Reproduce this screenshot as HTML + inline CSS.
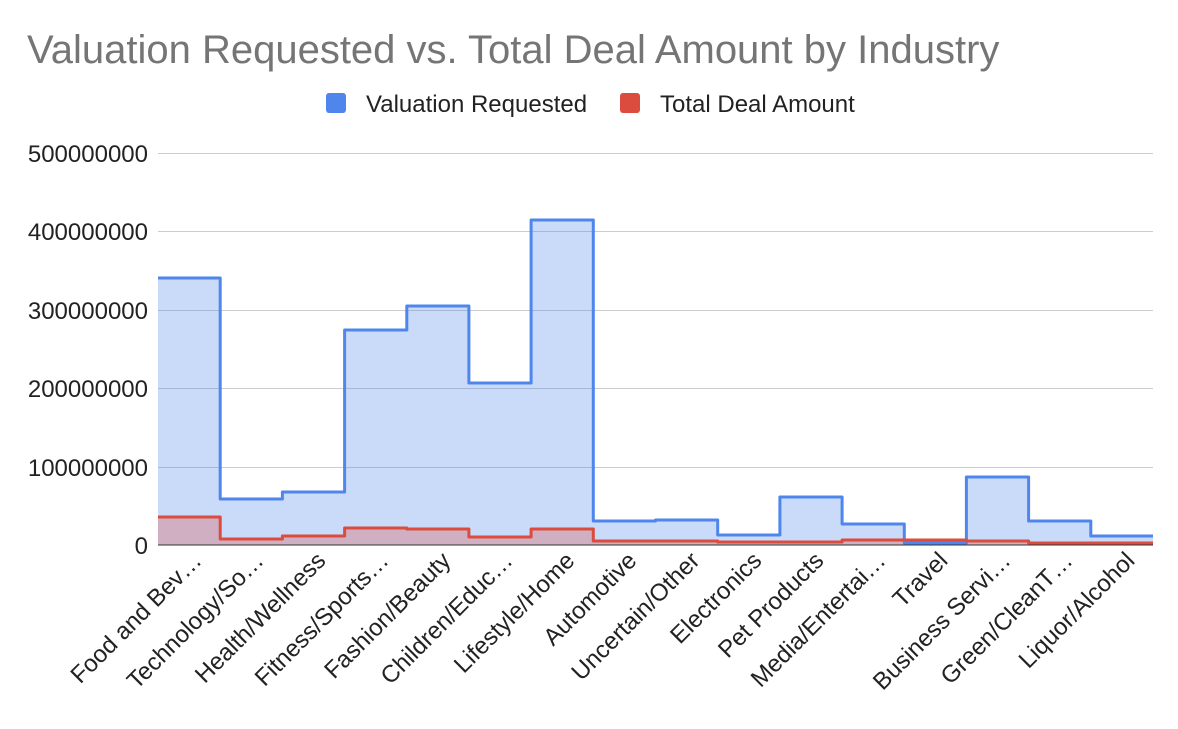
<!DOCTYPE html>
<html><head><meta charset="utf-8"><style>
body{margin:0;background:#fff}
svg text{font-family:"Liberation Sans",Arial,sans-serif}
</style></head><body>
<svg width="1178" height="724" viewBox="0 0 1178 724" xmlns="http://www.w3.org/2000/svg">
<rect width="1178" height="724" fill="#fff"/>
<text x="27" y="63" font-size="40" fill="#757575">Valuation Requested vs. Total Deal Amount by Industry</text>
<rect x="326" y="93" width="20" height="20" rx="3" fill="#4f86ec"/>
<text x="366" y="112" font-size="24" fill="#222">Valuation Requested</text>
<rect x="620" y="93" width="20" height="20" rx="3" fill="#db4c3f"/>
<text x="660" y="112" font-size="24" fill="#222">Total Deal Amount</text>
<g stroke="#cccccc" stroke-width="1">
<line x1="158" x2="1153" y1="153.5" y2="153.5"/>
<line x1="158" x2="1153" y1="231.5" y2="231.5"/>
<line x1="158" x2="1153" y1="310.5" y2="310.5"/>
<line x1="158" x2="1153" y1="388.5" y2="388.5"/>
<line x1="158" x2="1153" y1="467.5" y2="467.5"/>
</g>
<g font-size="24" fill="#222" text-anchor="end">
<text x="148" y="162">500000000</text>
<text x="148" y="240">400000000</text>
<text x="148" y="319">300000000</text>
<text x="148" y="397">200000000</text>
<text x="148" y="476">100000000</text>
<text x="148" y="554">0</text>
</g>
<path d="M158 278 H220.2 V499 H282.4 V492 H344.6 V330 H406.8 V306 H468.9 V383 H531.1 V220 H593.3 V521 H655.5 V520 H717.7 V535 H779.9 V497 H842.1 V524 H904.3 V543 H966.4 V477 H1028.6 V521 H1090.8 V536 H1153 V545 H158 Z" fill="#4f86ec" fill-opacity="0.3"/>
<path d="M158 517 H220.2 V539 H282.4 V536 H344.6 V528 H406.8 V529 H468.9 V537 H531.1 V529 H593.3 V541 H655.5 V541 H717.7 V542 H779.9 V542 H842.1 V540 H904.3 V540 H966.4 V541 H1028.6 V543 H1090.8 V543 H1153 V545 H158 Z" fill="#db4c3f" fill-opacity="0.3"/>
<path d="M158 278 H220.2 V499 H282.4 V492 H344.6 V330 H406.8 V306 H468.9 V383 H531.1 V220 H593.3 V521 H655.5 V520 H717.7 V535 H779.9 V497 H842.1 V524 H904.3 V543 H966.4 V477 H1028.6 V521 H1090.8 V536 H1153" fill="none" stroke="#4f86ec" stroke-width="3" stroke-linejoin="round"/>
<path d="M158 517 H220.2 V539 H282.4 V536 H344.6 V528 H406.8 V529 H468.9 V537 H531.1 V529 H593.3 V541 H655.5 V541 H717.7 V542 H779.9 V542 H842.1 V540 H904.3 V540 H966.4 V541 H1028.6 V543 H1090.8 V543 H1153" fill="none" stroke="#db4c3f" stroke-width="3" stroke-linejoin="round"/>
<line x1="158" x2="1153" y1="545" y2="545" stroke="#333" stroke-width="1"/>
<g font-size="24" fill="#222" text-anchor="end">
<text x="203" y="562" transform="rotate(-45 203 562)">Food and Bev…</text>
<text x="265" y="562" transform="rotate(-45 265 562)">Technology/So…</text>
<text x="327" y="562" transform="rotate(-45 327 562)">Health/Wellness</text>
<text x="390" y="562" transform="rotate(-45 390 562)">Fitness/Sports…</text>
<text x="452" y="562" transform="rotate(-45 452 562)">Fashion/Beauty</text>
<text x="514" y="562" transform="rotate(-45 514 562)">Children/Educ…</text>
<text x="576" y="562" transform="rotate(-45 576 562)">Lifestyle/Home</text>
<text x="638" y="562" transform="rotate(-45 638 562)">Automotive</text>
<text x="701" y="562" transform="rotate(-45 701 562)">Uncertain/Other</text>
<text x="763" y="562" transform="rotate(-45 763 562)">Electronics</text>
<text x="825" y="562" transform="rotate(-45 825 562)">Pet Products</text>
<text x="887" y="562" transform="rotate(-45 887 562)">Media/Entertai…</text>
<text x="949" y="562" transform="rotate(-45 949 562)">Travel</text>
<text x="1012" y="562" transform="rotate(-45 1012 562)">Business Servi…</text>
<text x="1074" y="562" transform="rotate(-45 1074 562)">Green/CleanT…</text>
<text x="1136" y="562" transform="rotate(-45 1136 562)">Liquor/Alcohol</text>
</g>
</svg>
</body></html>
